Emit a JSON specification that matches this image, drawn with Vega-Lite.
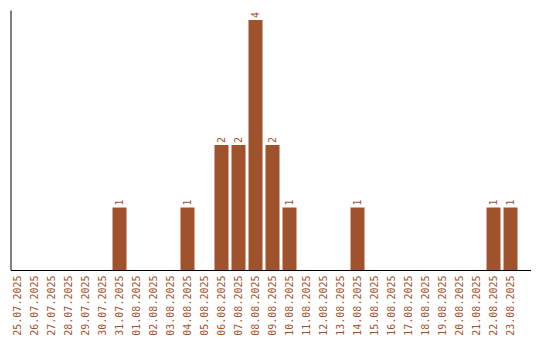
{
  "$schema": "https://vega.github.io/schema/vega-lite/v6.json",
  "autosize": "none",
  "width": 520,
  "height": 260,
  "padding": {"left": 10.5, "top": 10, "right": 9.5, "bottom": 70},
  "background": "white",
  "config": {"view": {"stroke": null}},
  "data": {"values": [
    {"date": "25.07.2025", "count": 0},
    {"date": "26.07.2025", "count": 0},
    {"date": "27.07.2025", "count": 0},
    {"date": "28.07.2025", "count": 0},
    {"date": "29.07.2025", "count": 0},
    {"date": "30.07.2025", "count": 0},
    {"date": "31.07.2025", "count": 1},
    {"date": "01.08.2025", "count": 0},
    {"date": "02.08.2025", "count": 0},
    {"date": "03.08.2025", "count": 0},
    {"date": "04.08.2025", "count": 1},
    {"date": "05.08.2025", "count": 0},
    {"date": "06.08.2025", "count": 2},
    {"date": "07.08.2025", "count": 2},
    {"date": "08.08.2025", "count": 4},
    {"date": "09.08.2025", "count": 2},
    {"date": "10.08.2025", "count": 1},
    {"date": "11.08.2025", "count": 0},
    {"date": "12.08.2025", "count": 0},
    {"date": "13.08.2025", "count": 0},
    {"date": "14.08.2025", "count": 1},
    {"date": "15.08.2025", "count": 0},
    {"date": "16.08.2025", "count": 0},
    {"date": "17.08.2025", "count": 0},
    {"date": "18.08.2025", "count": 0},
    {"date": "19.08.2025", "count": 0},
    {"date": "20.08.2025", "count": 0},
    {"date": "21.08.2025", "count": 0},
    {"date": "22.08.2025", "count": 1},
    {"date": "23.08.2025", "count": 1}
  ]},
  "encoding": {
    "x": {
      "field": "date", "type": "ordinal", "sort": null,
      "scale": {"paddingInner": 0.176, "paddingOuter": 0.382, "align": 0},
      "axis": {
        "title": null, "ticks": false, "labelAngle": -90, "labelAlign": "right",
        "labelBaseline": "middle", "labelPadding": 5,
        "labelFont": "DejaVu Sans Mono", "labelFontSize": 10, "labelColor": "#a0522d",
        "domainColor": "black", "domainWidth": 1, "grid": false
      }
    },
    "y": {
      "field": "count", "type": "quantitative",
      "scale": {"domain": [0, 4.16], "nice": false},
      "axis": {
        "title": null, "ticks": false, "labels": false, "grid": false,
        "domainColor": "black", "domainWidth": 1
      }
    }
  },
  "layer": [
    {"mark": {"type": "bar", "color": "#a0522d"}},
    {
      "transform": [{"filter": "datum.count > 0"}],
      "mark": {"type": "text", "angle": 270, "align": "left", "baseline": "middle",
               "dx": 2, "font": "DejaVu Sans Mono", "fontSize": 10, "color": "#a0522d"},
      "encoding": {"text": {"field": "count", "type": "quantitative"}}
    }
  ]
}
